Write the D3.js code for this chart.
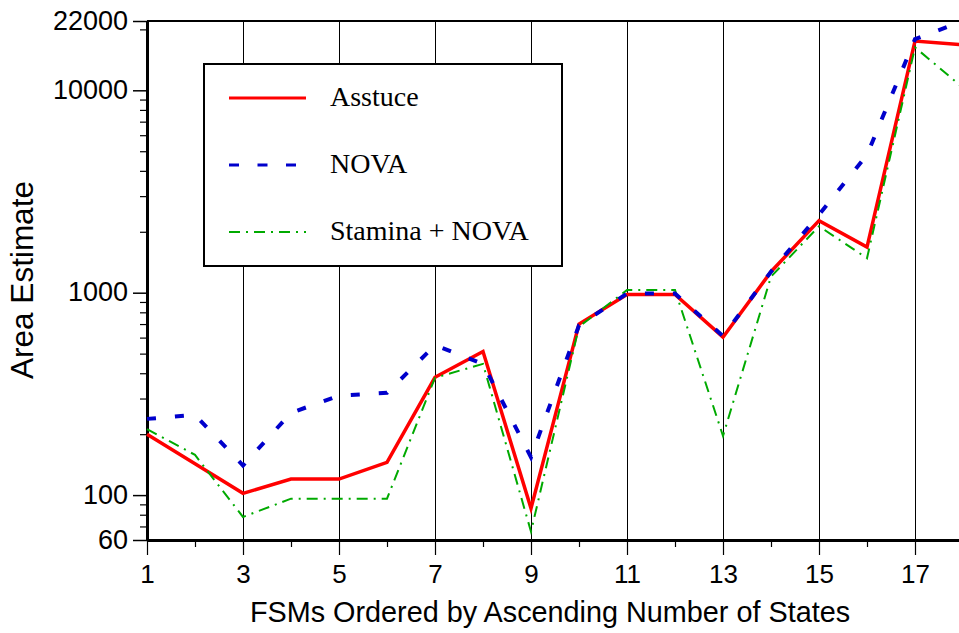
<!DOCTYPE html>
<html>
<head>
<meta charset="utf-8">
<script src="https://cdn.jsdelivr.net/npm/d3@7"></script>
<style>
  body { margin: 0; background: #fff; }
  svg { display: block; }
</style>
</head>
<body>
<svg id="chart" width="959" height="633"></svg>
<script>
// 데이터
var fsm = [1,2,3,4,5,6,7,8,9,10,11,12,13,14,15,16,17,18];
var asstuce = [200,143,102,120,120,145,382,512,86,700,980,980,603,1270,2270,1680,17500,16800];
var nova = [238,249,140,255,310,320,550,445,154,690,990,990,610,1270,2430,4800,17900,22000];
var staminaNova = [212,158,78,96,96,96,380,445,66,680,1030,1030,196,1200,2130,1480,16300,10300];

var seriesNames = ["Asstuce","NOVA","Stamina + NOVA"];
var yMajor = [60,100,1000,10000,22000];
var yMinor = [70,80,90,200,300,400,500,600,700,800,900,2000,3000,4000,5000,6000,7000,8000,9000,20000];
var xMajor = [1,3,5,7,9,11,13,15,17];
var xMinor = [2,4,6,8,10,12,14,16,18];
var gridX = [3,5,7,9,11,13,15,17];

var svg = d3.select("#chart");

var x = d3.scaleLinear().domain([1,18]).range([147,963]);
var y = d3.scaleLog().domain([60,22000]).range([540,21]);

// 세로 격자선
svg.append("g").selectAll("line")
   .data(gridX).enter().append("line")
   .attr("x1", function(d){ return x(d) + 0.5; })
   .attr("x2", function(d){ return x(d) + 0.5; })
   .attr("y1", y(22000))
   .attr("y2", y(60))
   .attr("stroke", "#000").attr("stroke-width", 1)
   .attr("shape-rendering", "crispEdges");

// 위쪽 테두리
svg.append("line")
   .attr("x1", x(1)).attr("x2", 959)
   .attr("y1", y(22000)).attr("y2", y(22000))
   .attr("stroke", "#000").attr("stroke-width", 2);

// x축
var xAxisMinor = svg.append("g")
   .attr("transform", "translate(0," + y(60) + ")")
   .call(d3.axisBottom(x).tickValues(xMinor).tickSize(7).tickFormat(""));
xAxisMinor.select(".domain").remove();
xAxisMinor.selectAll("line").attr("stroke-width", 1.2);

var xAxis = svg.append("g")
   .attr("transform", "translate(0," + y(60) + ")")
   .call(d3.axisBottom(x).tickValues(xMajor).tickSize(15).tickSizeOuter(0).tickFormat(d3.format("d")));
xAxis.select(".domain").attr("stroke-width", 3);
xAxis.selectAll("line").attr("stroke-width", 1.2);
xAxis.selectAll("text")
   .attr("y", 43).attr("dy", null)
   .attr("font-family", "Liberation Sans, Arial, sans-serif")
   .attr("font-size", 26).attr("fill", "#000");

// y축
var yAxisMinor = svg.append("g")
   .attr("transform", "translate(" + x(1) + ",0)")
   .call(d3.axisLeft(y).tickValues(yMinor).tickSize(7).tickFormat(""));
yAxisMinor.select(".domain").remove();
yAxisMinor.selectAll("line").attr("stroke-width", 1.2);

var yAxis = svg.append("g")
   .attr("transform", "translate(" + x(1) + ",0)")
   .call(d3.axisLeft(y).tickValues(yMajor).tickSize(14).tickSizeOuter(0).tickFormat(d3.format("d")));
yAxis.select(".domain").attr("stroke-width", 3);
yAxis.selectAll("line").attr("stroke-width", 1.5);
yAxis.selectAll("text")
   .attr("x", -19).attr("dy", "0.3em")
   .attr("font-family", "Liberation Sans, Arial, sans-serif")
   .attr("font-size", 27).attr("fill", "#000");

// 축 제목
svg.append("text")
   .attr("x", 550).attr("y", 622)
   .attr("text-anchor", "middle")
   .attr("font-family", "Liberation Sans, Arial, sans-serif")
   .attr("font-size", 28.8)
   .text("FSMs Ordered by Ascending Number of States");

svg.append("text")
   .attr("transform", "translate(33,280) rotate(-90)")
   .attr("text-anchor", "middle")
   .attr("font-family", "Liberation Sans, Arial, sans-serif")
   .attr("font-size", 31.5)
   .text("Area Estimate");

// 선 그리기
var line = d3.line()
   .x(function(d){ return x(d[0]); })
   .y(function(d){ return y(d[1]); });

var styles = [
  { color: "#ff0000", width: 3.5, dash: null },
  { color: "#0000cc", width: 4, dash: "9,19" },
  { color: "#00aa00", width: 2, dash: "11,6,2,6" }
];
var allSeries = [asstuce, nova, staminaNova];
var drawOrder = [0,2,1];

for (var k = 0; k < drawOrder.length; k++) {
  var i = drawOrder[k];
  svg.append("path")
     .datum(d3.zip(fsm, allSeries[i]))
     .attr("d", line)
     .attr("fill", "none")
     .attr("stroke", styles[i].color)
     .attr("stroke-width", styles[i].width)
     .attr("stroke-dasharray", styles[i].dash)
     .attr("stroke-linejoin", "miter");
}

// 범례
var legend = svg.append("g");
legend.append("rect")
   .attr("x", 204).attr("y", 64)
   .attr("width", 358).attr("height", 202)
   .attr("fill", "#fff").attr("stroke", "#000").attr("stroke-width", 2);

var rowY = [98, 165, 232];
for (var j = 0; j < seriesNames.length; j++) {
  legend.append("line")
     .attr("x1", 229).attr("x2", 306)
     .attr("y1", rowY[j]).attr("y2", rowY[j])
     .attr("stroke", styles[j].color)
     .attr("stroke-width", j == 2 ? 2 : 3)
     .attr("stroke-dasharray", j == 1 ? "10,18.5" : styles[j].dash);
  legend.append("text")
     .attr("x", 330).attr("y", rowY[j] + 8)
     .attr("font-family", "Liberation Serif, Times New Roman, serif")
     .attr("font-size", 28)
     .text(seriesNames[j]);
}
</script>
</body>
</html>
